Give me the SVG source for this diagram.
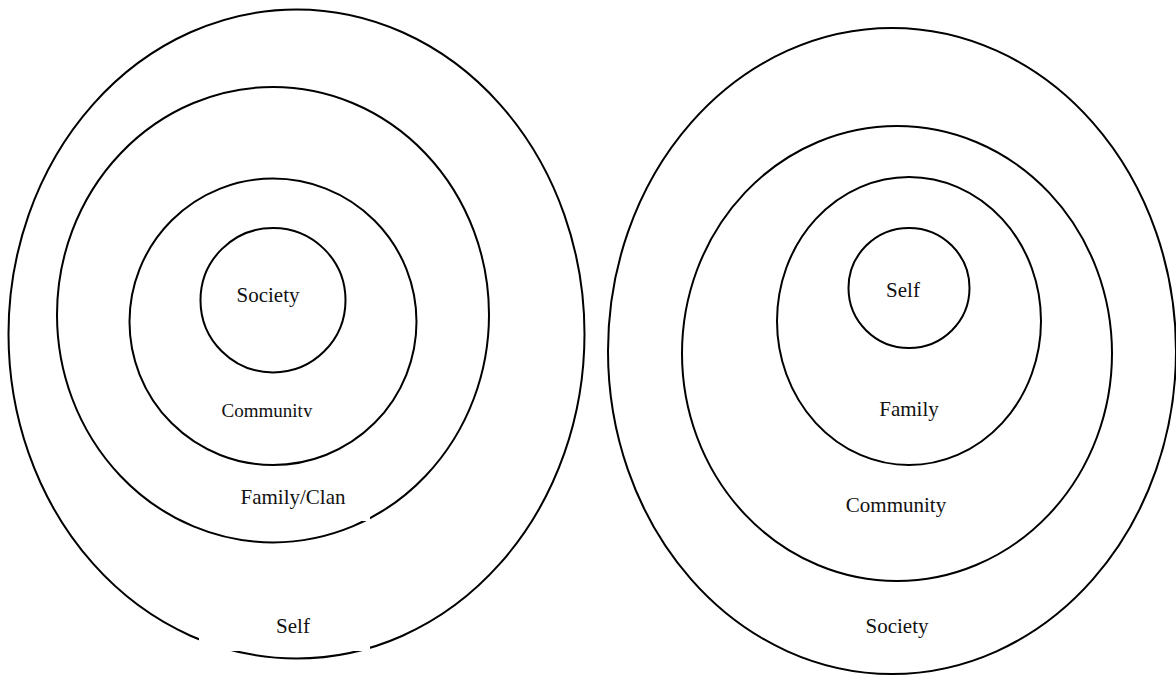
<svg xmlns="http://www.w3.org/2000/svg" width="1176" height="675" viewBox="0 0 1176 675">
  <style>
    .ring { fill: none; stroke: #000; stroke-width: 2; }
    .lbl { font-family: "Liberation Serif", "Times New Roman", serif; font-size: 21px; fill: #111; text-anchor: middle; }
    .box { fill: #fff; stroke: none; }
  </style>
  <defs>
    <clipPath id="clipCommunity">
      <rect x="190" y="380" width="160" height="37"/>
    </clipPath>
  </defs>
  <rect x="0" y="0" width="1176" height="675" fill="#fff"/>
  <g id="connectors"></g>
  <g id="left-model">
    <g id="left-self-ring">
      <ellipse class="ring" cx="296.5" cy="334" rx="288" ry="324.5"/>
      <rect class="box" x="199" y="612" width="171" height="39"/>
      <text class="lbl" x="293" y="633">Self</text>
    </g>
    <g id="left-family-ring">
      <ellipse class="ring" cx="273" cy="314.7" rx="216" ry="227.7"/>
      <rect class="box" x="199" y="482" width="171" height="39"/>
      <text class="lbl" x="293" y="504">Family/Clan</text>
    </g>
    <g id="left-community-ring">
      <ellipse class="ring" cx="273" cy="321.8" rx="143.5" ry="143.2"/>
      <text class="lbl" x="267" y="417" style="font-size:19px" clip-path="url(#clipCommunity)">Community</text>
    </g>
    <g id="left-society-ring">
      <ellipse class="ring" cx="273" cy="300.2" rx="72.5" ry="72.2"/>
      <text class="lbl" x="268" y="302">Society</text>
    </g>
  </g>
  <g id="right-model">
    <g id="right-society-ring">
      <ellipse class="ring" cx="892" cy="351" rx="284" ry="323"/>
      <text class="lbl" x="897" y="633">Society</text>
    </g>
    <g id="right-community-ring">
      <ellipse class="ring" cx="897" cy="353.5" rx="215" ry="227.5"/>
      <text class="lbl" x="896" y="512">Community</text>
    </g>
    <g id="right-family-ring">
      <ellipse class="ring" cx="909" cy="321" rx="132" ry="144"/>
      <text class="lbl" x="909" y="416">Family</text>
    </g>
    <g id="right-self-ring">
      <ellipse class="ring" cx="909" cy="288" rx="60.5" ry="60"/>
      <text class="lbl" x="903" y="297">Self</text>
    </g>
  </g>
</svg>
